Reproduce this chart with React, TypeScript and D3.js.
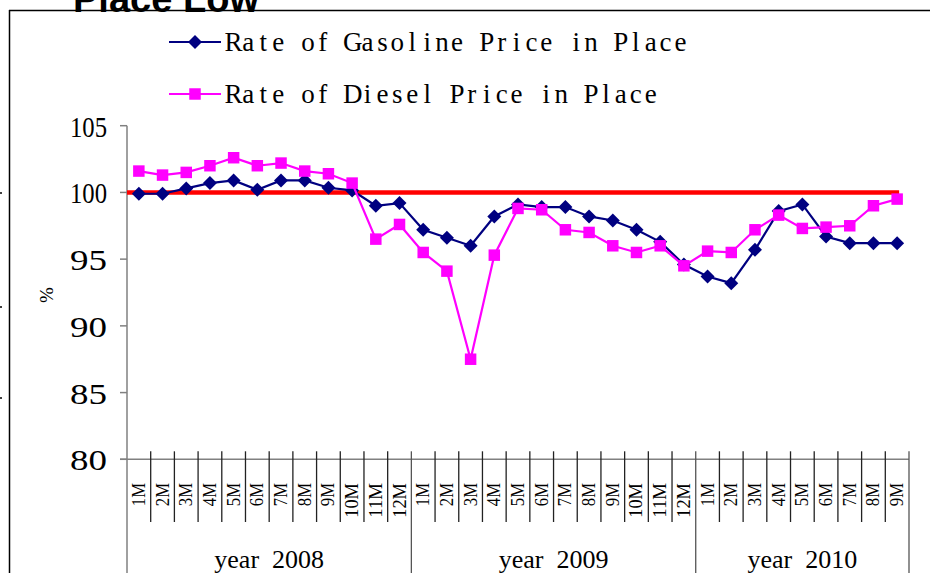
import React from "react";
import * as d3 from "d3";

const monthLabels: string[] = [
  "1M","2M","3M","4M","5M","6M","7M","8M","9M","10M","11M","12M",
  "1M","2M","3M","4M","5M","6M","7M","8M","9M","10M","11M","12M",
  "1M","2M","3M","4M","5M","6M","7M","8M","9M",
];
const yearLabels: string[] = ["year  2008", "year  2009", "year  2010"];
const monthsPerYear: number[] = [12, 12, 9];

const gasoline: number[] = [
  99.9, 99.9, 100.3, 100.7, 100.9, 100.2, 100.9, 100.9, 100.35, 100.15, 99.0, 99.2,
  97.2, 96.6, 96.0, 98.2, 99.1, 98.9, 98.9, 98.2, 97.9, 97.2, 96.3, 94.6,
  93.7, 93.2, 95.7, 98.6, 99.1, 96.7, 96.2, 96.2, 96.2,
];
const diesel: number[] = [
  101.6, 101.3, 101.5, 102.0, 102.6, 102.0, 102.2, 101.6, 101.4, 100.7, 96.5, 97.6,
  95.5, 94.1, 87.5, 95.3, 98.8, 98.7, 97.2, 97.0, 96.0, 95.5, 96.0, 94.5,
  95.6, 95.5, 97.2, 98.3, 97.3, 97.4, 97.5, 99.0, 99.5,
];
const baseline: number = 100;
const yTicks: number[] = [80, 85, 90, 95, 100, 105];
const seriesNames: string[] = ["Rate of Gasoline Price in Place", "Rate of Diesel Price in Place"];
const titleText = "Place Low";

const W = 930;
const H = 573;
const SERIF = "'Liberation Serif', 'DejaVu Serif', serif";

function MonoText({ text, x0, y0, cell }: { text: string; x0: number; y0: number; cell: number }) {
  const xs = Array.from(text).map((_, i) => (x0 + cell * (i + 0.5)).toFixed(2)).join(" ");
  return (
    <text
      x={xs}
      y={y0}
      textAnchor="middle"
      fontFamily={SERIF}
      fontSize={27}
      fill="#000"
      style={{ whiteSpace: "pre" }}
    >
      {text}
    </text>
  );
}

export default function App() {
  const idx = monthLabels.map((_, i) => i);
  const x = d3.scaleBand<number>().domain(idx).range([127, 909]).padding(0);
  const y = d3.scaleLinear().domain([80, 105]).range([459.3, 125.7]);
  const bw = x.bandwidth();
  const cx = (i: number) => (x(i) as number) + bw / 2;

  const line = d3
    .line<number>()
    .x((_, i) => cx(i))
    .y((d) => y(d));

  const axisY = y(80);
  const axisX = x.range()[0];
  const rightX = x.range()[1];

  const groupStarts: number[] = [];
  let acc = 0;
  monthsPerYear.forEach((n) => {
    groupStarts.push(acc);
    acc += n;
  });

  const r = 7;
  const diamond = `M0,${-r}L${r},0L0,${r}L${-r},0Z`;
  const square = d3.symbol().type(d3.symbolSquare).size(132)();

  return (
    <svg
      width={W}
      height={H}
      style={{ position: "absolute", left: 0, top: 0, background: "#fff" }}
    >
      <rect x={0} y={0} width={W} height={H} fill="#fff" />
      <text
        x={73}
        y={12}
        fontFamily="'Liberation Sans', Arial, sans-serif"
        fontWeight="bold"
        fontSize={38}
        fill="#000"
        textLength={186}
        lengthAdjust="spacingAndGlyphs"
      >
        {titleText}
      </text>
      <line x1={9} y1={10.5} x2={W} y2={10.5} stroke="#000" strokeWidth={1.5} />
      <line x1={9.5} y1={10} x2={9.5} y2={H} stroke="#000" strokeWidth={1.5} />
      {[193, 307, 398].map((yy, k) => (
        <line key={k} x1={0} y1={yy} x2={2} y2={yy} stroke="#000" strokeWidth={1.5} />
      ))}

      {/* y axis */}
      <line x1={axisX} y1={y(105)} x2={axisX} y2={H} stroke="#808080" strokeWidth={1.5} />
      {yTicks.map((t) => (
        <g key={t}>
          <line x1={axisX - 7} y1={y(t)} x2={axisX} y2={y(t)} stroke="#808080" strokeWidth={1.5} />
          <text
            x={107}
            y={y(t) + 11}
            textAnchor="end"
            fontFamily={SERIF}
            fontSize={29}
            fill="#000"
            textLength={37}
            lengthAdjust="spacingAndGlyphs"
          >
            {t}
          </text>
        </g>
      ))}
      <text
        transform={`translate(${53},${295}) rotate(-90)`}
        textAnchor="middle"
        fontFamily={SERIF}
        fontSize={19}
        fill="#000"
      >
        %
      </text>

      {/* x axis */}
      <line x1={axisX - 7} y1={axisY} x2={rightX} y2={axisY} stroke="#808080" strokeWidth={1.5} />
      {idx.map((i) => {
        const xx = (x(i) as number) + bw;
        const isGroupEnd = groupStarts.includes(i + 1) || i === idx.length - 1;
        return (
          <line
            key={`t${i}`}
            x1={xx}
            y1={axisY - 8}
            x2={xx}
            y2={isGroupEnd ? H : 522}
            stroke={isGroupEnd ? "#555" : "#222"}
            strokeWidth={1.3}
          />
        );
      })}
      {monthLabels.map((m, i) => (
        <text
          key={`m${i}`}
          transform={`translate(${cx(i) + 6},${483}) rotate(-90)`}
          textAnchor="end"
          fontFamily={SERIF}
          fontSize={18}
          fill="#000"
          textLength={m.length * 11.6}
          lengthAdjust="spacingAndGlyphs"
        >
          {m}
        </text>
      ))}
      {yearLabels.map((lab, g) => {
        const s = groupStarts[g];
        const e = s + monthsPerYear[g] - 1;
        const mid = ((x(s) as number) + (x(e) as number) + bw) / 2;
        return (
          <text
            key={`y${g}`}
            x={mid}
            y={568}
            textAnchor="middle"
            fontFamily={SERIF}
            fontSize={26}
            fill="#000"
            style={{ whiteSpace: "pre" }}
          >
            {lab}
          </text>
        );
      })}

      <line
        x1={axisX}
        y1={y(baseline)}
        x2={cx(idx.length - 1) + 2}
        y2={y(baseline)}
        stroke="#ff0000"
        strokeWidth={4.5}
      />

      <path d={line(gasoline) || ""} fill="none" stroke="#000080" strokeWidth={2.2} />
      {gasoline.map((v, i) => (
        <path key={`g${i}`} d={diamond} transform={`translate(${cx(i)},${y(v)})`} fill="#000080" />
      ))}

      <path d={line(diesel) || ""} fill="none" stroke="#ff00ff" strokeWidth={2.2} />
      {diesel.map((v, i) => (
        <path key={`d${i}`} d={square || ""} transform={`translate(${cx(i)},${y(v)})`} fill="#ff00ff" />
      ))}

      {/* legend */}
      <line x1={169} y1={42} x2={221} y2={42} stroke="#000080" strokeWidth={2.2} />
      <path d={diamond} transform="translate(195,42)" fill="#000080" />
      <MonoText text={seriesNames[0]} x0={226} y0={51} cell={14.9} />
      <line x1={169} y1={94} x2={221} y2={94} stroke="#ff00ff" strokeWidth={2.2} />
      <path d={square || ""} transform="translate(195,94)" fill="#ff00ff" />
      <MonoText text={seriesNames[1]} x0={226} y0={103} cell={14.9} />
    </svg>
  );
}
